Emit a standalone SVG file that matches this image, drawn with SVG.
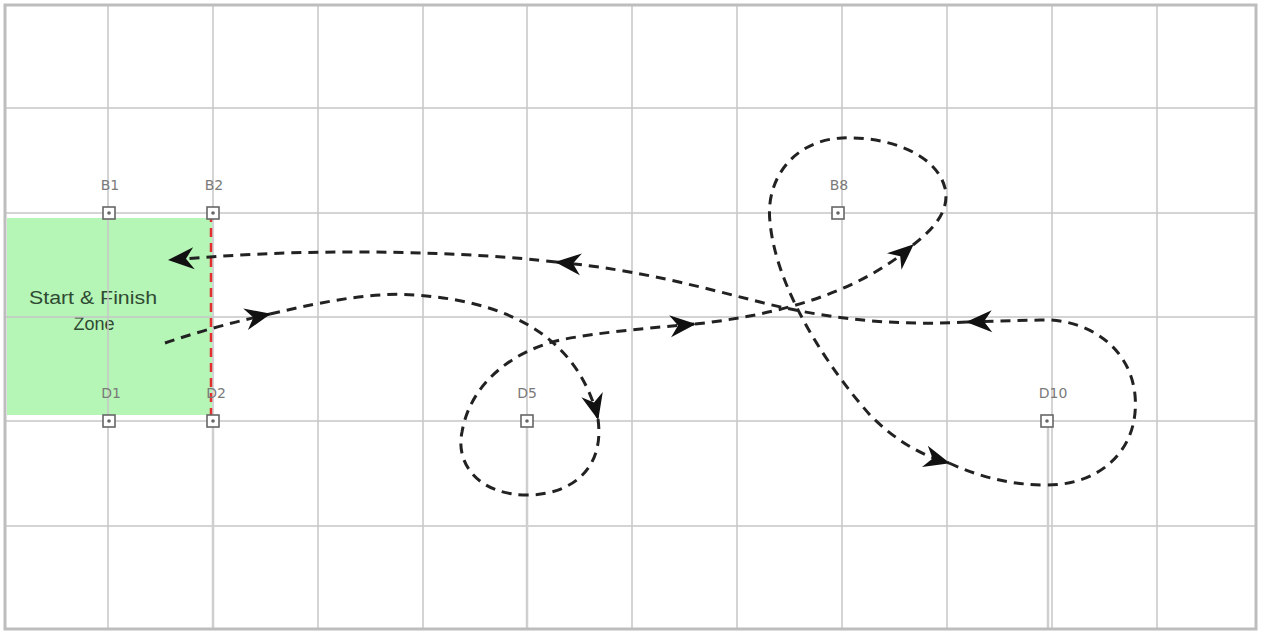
<svg xmlns="http://www.w3.org/2000/svg" width="1263" height="635" viewBox="0 0 1263 635">
<style>
.grid{stroke:#c6c6c6;stroke-width:1.5;fill:none}
.drop{stroke:#cfcfcf;stroke-width:2.5;fill:none}
.lbl{font-family:"DejaVu Sans","Liberation Sans",sans-serif;font-size:14px;fill:#7a7a7a;text-anchor:middle}
.pt{fill:#fff;stroke:#666;stroke-width:1.6}
.dot{fill:#666}
.route{fill:none;stroke:#222;stroke-width:3;stroke-dasharray:10 7}
.zone{font-family:"Liberation Sans",Arial,sans-serif;font-size:18px;fill:#2f4a33;text-anchor:middle}
</style>
<defs>
<marker id="ah" viewBox="-28 -12 30 24" refX="0" refY="0" markerWidth="30" markerHeight="24" markerUnits="userSpaceOnUse" orient="auto">
<path d="M1,0 L-25,-11 L-17,0 L-25,11 Z" fill="#111"/>
</marker>
</defs>
<rect x="0" y="0" width="1263" height="635" fill="#fff"/>
<g id="zone">
<rect x="7" y="218" width="205" height="197" fill="#b5f5b5"/>
<text class="zone" x="93" y="304" textLength="128" lengthAdjust="spacingAndGlyphs">Start &amp; Finish</text>
<text class="zone" x="94" y="330">Zone</text>
</g>
<g id="grid">
<path class="grid" d="M108,5V630M213,5V630M318,5V630M423,5V630M527,5V630M632,5V630M737,5V630M842,5V630M947,5V630M1052,5V630M1157,5V630"/>
<path class="grid" d="M5,108H1256M5,213H1256M5,317H1256M5,421H1256M5,526H1256"/>
<path class="drop" d="M213,421V630M527,421V630M1048,421V630"/>
</g>
<rect id="frame" x="5" y="5" width="1251" height="624" fill="none" stroke="#bdbdbd" stroke-width="3"/>
<line id="gate" x1="211" y1="213" x2="211" y2="421" stroke="#e03030" stroke-width="2.5" stroke-dasharray="9 6"/>
<g id="B1"><rect class="pt" x="103" y="207" width="12" height="12"/><circle class="dot" cx="109" cy="213" r="1.8"/><text class="lbl" x="110" y="190">B1</text></g>
<g id="B2"><rect class="pt" x="207" y="207" width="12" height="12"/><circle class="dot" cx="213" cy="213" r="1.8"/><text class="lbl" x="214" y="190">B2</text></g>
<g id="D1"><rect class="pt" x="103" y="415" width="12" height="12"/><circle class="dot" cx="109" cy="421" r="1.8"/><text class="lbl" x="111" y="398">D1</text></g>
<g id="D2"><rect class="pt" x="207" y="415" width="12" height="12"/><circle class="dot" cx="213" cy="421" r="1.8"/><text class="lbl" x="216" y="398">D2</text></g>
<g id="D5"><rect class="pt" x="521" y="415" width="12" height="12"/><circle class="dot" cx="527" cy="421" r="1.8"/><text class="lbl" x="527" y="398">D5</text></g>
<g id="B8"><rect class="pt" x="832" y="207" width="12" height="12"/><circle class="dot" cx="838" cy="213" r="1.8"/><text class="lbl" x="839" y="190">B8</text></g>
<g id="D10"><rect class="pt" x="1041" y="415" width="12" height="12"/><circle class="dot" cx="1047" cy="421" r="1.8"/><text class="lbl" x="1053" y="398">D10</text></g>
<g id="connectors">
<path class="route" marker-end="url(#ah)" d="M165,343 Q215,326 270,314"/>
<path class="route" marker-end="url(#ah)" d="M270,314 C330,300 375,292 415,295 C520,302 580,345 598,419"/>
<path class="route" marker-end="url(#ah)" d="M598,419 C605,470 570,495 527,495 C480,495 455,465 462,432 C470,385 510,352 560,340 C600,332 650,328 695,324"/>
<path class="route" marker-end="url(#ah)" d="M695,324 C770,316 855,296 913,245"/>
<path class="route" marker-end="url(#ah)" d="M913,245 C935,228 950,210 945,188 C935,150 880,136 842,138 C795,140 765,178 770,222 C776,290 830,370 870,415 C895,440 920,455 949,463"/>
<path class="route" marker-end="url(#ah)" d="M949,463 C980,477 1010,485 1047,485 C1100,485 1140,450 1135,395 C1130,345 1085,318 1040,320 L967,322"/>
<path class="route" marker-end="url(#ah)" d="M967,322 C900,326 830,320 760,302 C700,287 640,270 556,262"/>
<path class="route" marker-end="url(#ah)" d="M556,262 C470,252 330,248 210,257 L169,260"/>
</g>
</svg>
